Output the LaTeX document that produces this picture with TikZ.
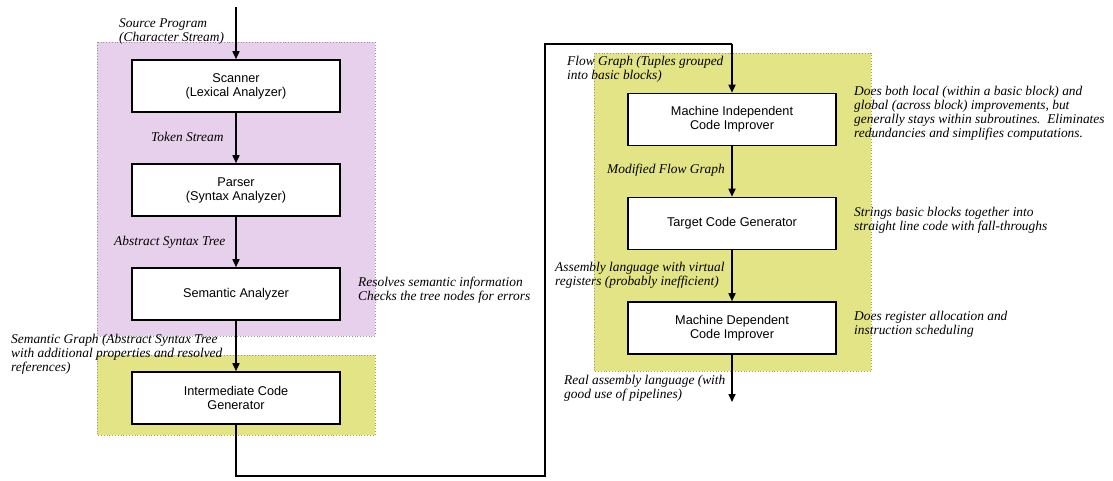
\documentclass[tikz,border=0pt]{standalone}
\usepackage{fontspec}
\setmainfont{Liberation Serif}
\setsansfont{Liberation Sans}
\usetikzlibrary{arrows.meta}
\definecolor{frontfill}{RGB}{230,208,236}
\definecolor{backfill}{RGB}{227,228,133}
\definecolor{regionedge}{RGB}{150,150,150}
\begin{document}
\begin{tikzpicture}[x=1pt,y=-1pt,
  stagebox/.style={draw=black, line width=1.6pt, fill=white, minimum width=208pt,
    minimum height=52pt, inner sep=0pt, align=center,
    font=\sffamily\fontsize{12.7}{14}\selectfont},
  region/.style={draw=regionedge, dotted, line width=0.8pt},
  flow/.style={line width=1.6pt, -{Triangle[length=8pt,width=7pt]}},
  note/.style={anchor=north west, inner sep=0pt, align=left,
    font=\fontsize{13.4}{14}\selectfont\itshape}]
\useasboundingbox (0,0) rectangle (1113,480);

% phase regions
\path[region, fill=frontfill] (97,42) rectangle (375,336);
\path[region, fill=backfill] (97,355) rectangle (375,435);
\path[region, fill=backfill] (594,53) rectangle (871,371);

% compiler stages
\node[stagebox] (scan) at (236,86) {Scanner\\(Lexical Analyzer)};
\node[stagebox] (parse) at (236,190) {Parser\\(Syntax Analyzer)};
\node[stagebox] (sem) at (236,294) {Semantic Analyzer};
\node[stagebox] (icg) at (236,398) {Intermediate Code\\Generator};
\node[stagebox] (mici) at (732,119.5) {Machine Independent\\Code Improver};
\node[stagebox] (tcg) at (732,223.5) {Target Code Generator};
\node[stagebox] (mdci) at (732,328) {Machine Dependent\\Code Improver};

% free ends and bends
\coordinate (src) at (236,7);
\coordinate (out) at (732,402);
\coordinate (bendlow) at (545,476);
\coordinate (bendhigh) at (732,44);

% data flow
\draw[flow] (src) -- (scan.north);
\draw[flow] (scan.south) -- (parse.north);
\draw[flow] (parse.south) -- (sem.north);
\draw[flow] (sem.south) -- (icg.north);
\draw[line width=2.4pt] (icg.south) |- (bendlow) |- (bendhigh);
\draw[flow] (bendhigh) -- (mici.north);
\draw[flow] (mici.south) -- (tcg.north);
\draw[flow] (tcg.south) -- (mdci.north);
\draw[flow] (mdci.south) -- (out);

% intermediate forms
\node[note] (n1) at (119,18.5) {Source Program\\(Character Stream)};
\node[note] (n2) at (151,131.5) {Token Stream};
\node[note] (n3) at (114,235.5) {Abstract Syntax Tree};
\node[note] (n4) at (11,333.5) {Semantic Graph (Abstract Syntax Tree\\with additional properties and resolved\\references)};
\node[note] (n5) at (567,55.5) {Flow Graph (Tuples grouped\\into basic blocks)};
\node[note] (n6) at (607,163.5) {Modified Flow Graph};
\node[note] (n7) at (555,261.5) {Assembly language with virtual\\registers (probably inefficient)};
\node[note] (n8) at (564,374.5) {Real assembly language (with\\good use of pipelines)};

% stage descriptions
\node[note] (d1) at (358,276.5) {Resolves semantic information\\Checks the tree nodes for errors};
\node[note] (d2) at (854,85.5) {Does both local (within a basic block) and\\global (across block) improvements, but\\generally stays within subroutines.\ \ Eliminates\\redundancies and simplifies computations.};
\node[note] (d3) at (854,206.5) {Strings basic blocks together into\\straight line code with fall-throughs};
\node[note] (d4) at (854,310.5) {Does register allocation and\\instruction scheduling};
\end{tikzpicture}
\end{document}
